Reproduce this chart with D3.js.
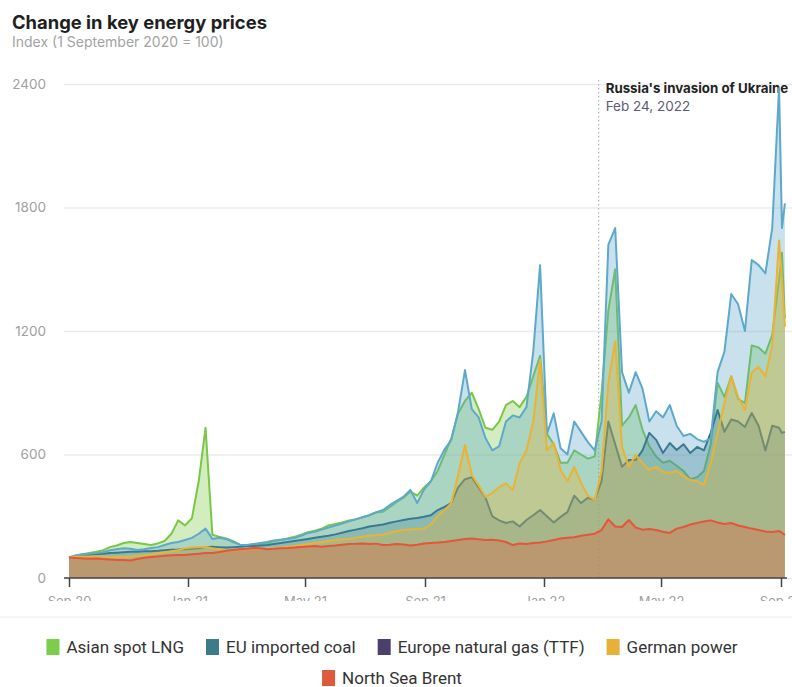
<!DOCTYPE html>
<html>
<head>
<meta charset="UTF-8">
<title>Change in key energy prices</title>
<script src="https://d3js.org/d3.v7.min.js"></script>
<style>
  body { margin: 0; background: #fff; }
  svg text { font-family: Inter, "Noto Sans", sans-serif; }
</style>
</head>
<body>
<svg id="chart"></svg>
<script>
// weekly observations, index 1 Sep 2020 = 100
const dates = [
  "2020-09-01","2020-09-08","2020-09-15","2020-09-22","2020-09-29","2020-10-06","2020-10-13","2020-10-20","2020-10-27","2020-11-03",
  "2020-11-10","2020-11-17","2020-11-24","2020-12-01","2020-12-08","2020-12-15","2020-12-22","2020-12-29","2021-01-05","2021-01-12",
  "2021-01-19","2021-01-26","2021-02-02","2021-02-09","2021-02-16","2021-02-23","2021-03-02","2021-03-09","2021-03-16","2021-03-23",
  "2021-03-30","2021-04-06","2021-04-13","2021-04-20","2021-04-27","2021-05-04","2021-05-11","2021-05-18","2021-05-25","2021-06-01",
  "2021-06-08","2021-06-15","2021-06-22","2021-06-29","2021-07-06","2021-07-13","2021-07-20","2021-07-27","2021-08-03","2021-08-10",
  "2021-08-17","2021-08-24","2021-08-31","2021-09-07","2021-09-14","2021-09-21","2021-09-28","2021-10-05","2021-10-12","2021-10-19",
  "2021-10-26","2021-11-02","2021-11-09","2021-11-16","2021-11-23","2021-11-30","2021-12-07","2021-12-14","2021-12-21","2021-12-28",
  "2022-01-04","2022-01-11","2022-01-18","2022-01-25","2022-02-01","2022-02-08","2022-02-15","2022-02-22","2022-03-01","2022-03-08",
  "2022-03-15","2022-03-22","2022-03-29","2022-04-05","2022-04-12","2022-04-19","2022-04-26","2022-05-03","2022-05-10","2022-05-17",
  "2022-05-24","2022-05-31","2022-06-07","2022-06-14","2022-06-21","2022-06-28","2022-07-05","2022-07-12","2022-07-19","2022-07-26",
  "2022-08-02","2022-08-09","2022-08-16","2022-08-23","2022-08-30","2022-09-02","2022-09-05"
];

const lng = [
  100,108,115,122,128,135,150,158,170,175,
  170,165,160,168,180,215,280,255,290,470,
  730,210,200,192,180,162,158,160,165,170,
  178,185,192,200,210,222,230,240,255,262,
  270,280,285,295,305,318,322,345,370,390,
  420,400,440,470,520,600,680,800,860,900,
  820,730,720,760,840,860,830,880,980,1080,
  700,650,560,560,620,600,580,590,900,1300,
  1500,740,780,840,720,640,590,560,570,545,
  520,480,490,520,650,948,880,980,870,850,
  1130,1120,1090,1180,1450,1580,1260
];
const coal = [
  100,105,108,112,115,118,121,123,125,127,
  128,130,130,132,135,137,138,140,142,145,
  150,152,150,148,150,152,155,155,158,160,
  165,170,175,180,185,190,195,200,205,212,
  220,228,235,242,250,255,260,268,275,282,
  288,292,298,305,330,345,364,440,480,490,
  440,390,300,280,267,275,250,282,305,330,
  300,270,297,320,400,364,390,380,470,760,
  650,540,573,573,620,705,671,607,656,622,
  650,607,637,620,705,816,710,770,760,734,
  802,740,620,740,730,705,710
];
const ttf = [
  100,110,115,118,121,125,135,140,145,142,
  136,140,146,150,160,170,175,185,195,215,
  240,190,195,190,175,162,160,165,170,175,
  182,186,190,194,205,219,225,235,245,255,
  265,275,285,295,305,320,330,355,375,395,
  428,364,430,470,560,625,670,810,1010,820,
  780,680,620,640,760,790,780,830,1100,1520,
  700,800,630,600,760,710,660,620,760,1620,
  1700,1000,900,1000,920,760,810,780,840,740,
  690,700,675,661,680,1000,1100,1380,1330,1200,
  1545,1520,1480,1700,2380,1700,1820
];
const power = [
  100,103,105,104,106,104,102,103,102,105,
  108,110,115,120,125,130,135,145,148,150,
  151,145,140,135,132,135,138,140,140,142,
  145,148,152,156,160,165,170,175,180,185,
  188,190,195,200,205,208,210,220,228,233,
  236,238,240,260,300,330,364,500,646,500,
  450,394,413,442,460,428,558,620,760,1060,
  620,656,525,470,540,462,400,379,520,950,
  1150,637,540,600,558,525,540,515,510,520,
  495,476,470,452,560,705,850,980,880,816,
  1000,1026,980,1130,1640,1450,1220
];
const brent = [
  100,97,95,93,95,92,90,88,87,85,
  92,98,102,105,108,110,112,112,115,118,
  121,122,126,132,136,140,142,146,145,140,
  142,145,146,148,151,153,155,152,155,158,
  162,165,166,168,165,167,160,162,165,163,
  158,162,168,170,172,175,180,185,190,192,
  188,185,186,182,175,160,168,165,170,172,
  178,185,192,195,198,205,210,215,233,285,
  250,248,282,245,235,238,233,225,219,240,
  248,260,267,275,280,270,262,267,255,248,
  240,233,226,224,228,220,209
];

const seriesNames = ["Asian spot LNG", "EU imported coal", "Europe natural gas (TTF)", "German power", "North Sea Brent"];
const seriesValues = [lng, coal, ttf, power, brent];
const legendColors = ["#7ccd4a", "#3d7b88", "#4b3f6c", "#e6b136", "#df5a3c"];
const fillColors = ["#7ac943", "#3b7a87", "#5aa5c8", "#e8b030", "#e05a3c"];
const lineColors = ["#78c846", "#2a6676", "#5ea8cc", "#eab335", "#e4553a"];

const yTicks = [0, 600, 1200, 1800, 2400];
const xTickDates = ["2020-09-01", "2021-01-01", "2021-05-01", "2021-09-01", "2022-01-01", "2022-05-01", "2022-09-01"];
const xTickLabels = ["Sep 20", "Jan 21", "May 21", "Sep 21", "Jan 22", "May 22", "Sep 22"];

const invasionDate = "2022-02-24";

const width = 792, height = 687;
const parse = d3.timeParse("%Y-%m-%d");

const svg = d3.select("#chart")
  .attr("width", width)
  .attr("height", height);

const x = d3.scaleTime()
  .domain([parse("2020-09-01"), parse("2022-09-01")])
  .range([69, 781]);

const y = d3.scaleLinear()
  .domain([0, 2400])
  .range([578, 84]);

// title
svg.append("text")
  .attr("x", 12).attr("y", 29)
  .style("font-size", "18.4px").style("font-weight", 700)
  .attr("fill", "#1f1f1f")
  .text("Change in key energy prices");

svg.append("text")
  .attr("x", 12).attr("y", 47)
  .style("font-size", "14px")
  .attr("fill", "#a3a3a3")
  .text("Index (1 September 2020 = 100)");

// y axis + gridlines
const yAxis = svg.append("g")
  .attr("transform", "translate(64,0)")
  .call(d3.axisLeft(y).tickValues(yTicks).tickFormat(d3.format("d"))
    .tickSize(-(width - 64)).tickPadding(18));
yAxis.select(".domain").remove();
yAxis.selectAll(".tick line").attr("stroke", "#ebebeb").attr("stroke-width", 1.5);
yAxis.selectAll(".tick text")
  .attr("fill", "#a0a0a0")
  .style("font-size", "13.5px")
  .style("font-family", "Inter, sans-serif");

// invasion marker
const xi = x(parse(invasionDate));
svg.append("line")
  .attr("x1", xi + 2).attr("x2", xi + 2)
  .attr("y1", 80).attr("y2", 578)
  .attr("stroke", "#b5b5b5").attr("stroke-width", 1.2)
  .attr("stroke-dasharray", "1.5,2.5");

svg.append("text")
  .attr("x", xi + 9).attr("y", 93)
  .style("font-size", "13.3px").style("font-weight", 700)
  .attr("fill", "#222")
  .text("Russia's invasion of Ukraine");

svg.append("text")
  .attr("x", xi + 9).attr("y", 111)
  .style("font-size", "13.5px")
  .attr("fill", "#5c5a78")
  .text("Feb 24, 2022");

// series: each area + line, drawn in legend order
const parsedDates = dates.map(parse);
const area = d3.area()
  .x((d, i) => x(parsedDates[i]))
  .y0(y(0))
  .y1(d => y(d));
const line = d3.line()
  .x((d, i) => x(parsedDates[i]))
  .y(d => y(d));

seriesValues.forEach((vals, s) => {
  svg.append("path")
    .datum(vals)
    .attr("d", area)
    .attr("fill", fillColors[s])
    .attr("fill-opacity", 0.33);
  svg.append("path")
    .datum(vals)
    .attr("d", line)
    .attr("fill", "none")
    .attr("stroke", lineColors[s])
    .attr("stroke-width", 2)
    .attr("stroke-linejoin", "round");
});

// x axis (the reference image is cropped through the labels)
svg.append("clipPath").attr("id", "cut")
  .append("rect").attr("x", 0).attr("y", 0).attr("width", width).attr("height", 601);

const xAxis = svg.append("g")
  .attr("clip-path", "url(#cut)")
  .append("g")
  .attr("transform", "translate(0,578)")
  .call(d3.axisBottom(x)
    .tickValues(xTickDates.map(parse))
    .tickFormat((d, i) => xTickLabels[i])
    .tickSize(9).tickPadding(10));
xAxis.select(".domain").remove();
xAxis.selectAll(".tick line").attr("stroke", "#444").attr("stroke-width", 1.5);
xAxis.selectAll(".tick text")
  .attr("fill", "#a0a0a0")
  .style("font-size", "13px");

svg.append("line")
  .attr("x1", 64).attr("x2", 787)
  .attr("y1", 578).attr("y2", 578)
  .attr("stroke", "#444").attr("stroke-width", 1.5);

// separator
svg.append("line")
  .attr("x1", 0).attr("x2", width)
  .attr("y1", 617).attr("y2", 617)
  .attr("stroke", "#ededed").attr("stroke-width", 1);

// legend
const rows = [[0, 1, 2, 3], [4]];
const rowY = [647, 678];
const sw = 13, swH = 16, gapIn = 7, gapOut = 22;
rows.forEach((row, r) => {
  const g = svg.append("g");
  const items = row.map(i => {
    const t = g.append("text")
      .attr("y", rowY[r] + 6)
      .style("font-family", "Roboto, sans-serif")
      .style("font-size", "17px")
      .attr("fill", "#333")
      .text(seriesNames[i]);
    return { i, t, w: t.node().getComputedTextLength() };
  });
  const total = d3.sum(items, d => sw + gapIn + d.w) + gapOut * (items.length - 1);
  let cx = 392 - total / 2;
  items.forEach(d => {
    g.append("rect")
      .attr("x", cx).attr("y", rowY[r] - swH / 2)
      .attr("width", sw).attr("height", swH)
      .attr("fill", legendColors[d.i]);
    d.t.attr("x", cx + sw + gapIn);
    cx += sw + gapIn + d.w + gapOut;
  });
});
</script>
</body>
</html>
